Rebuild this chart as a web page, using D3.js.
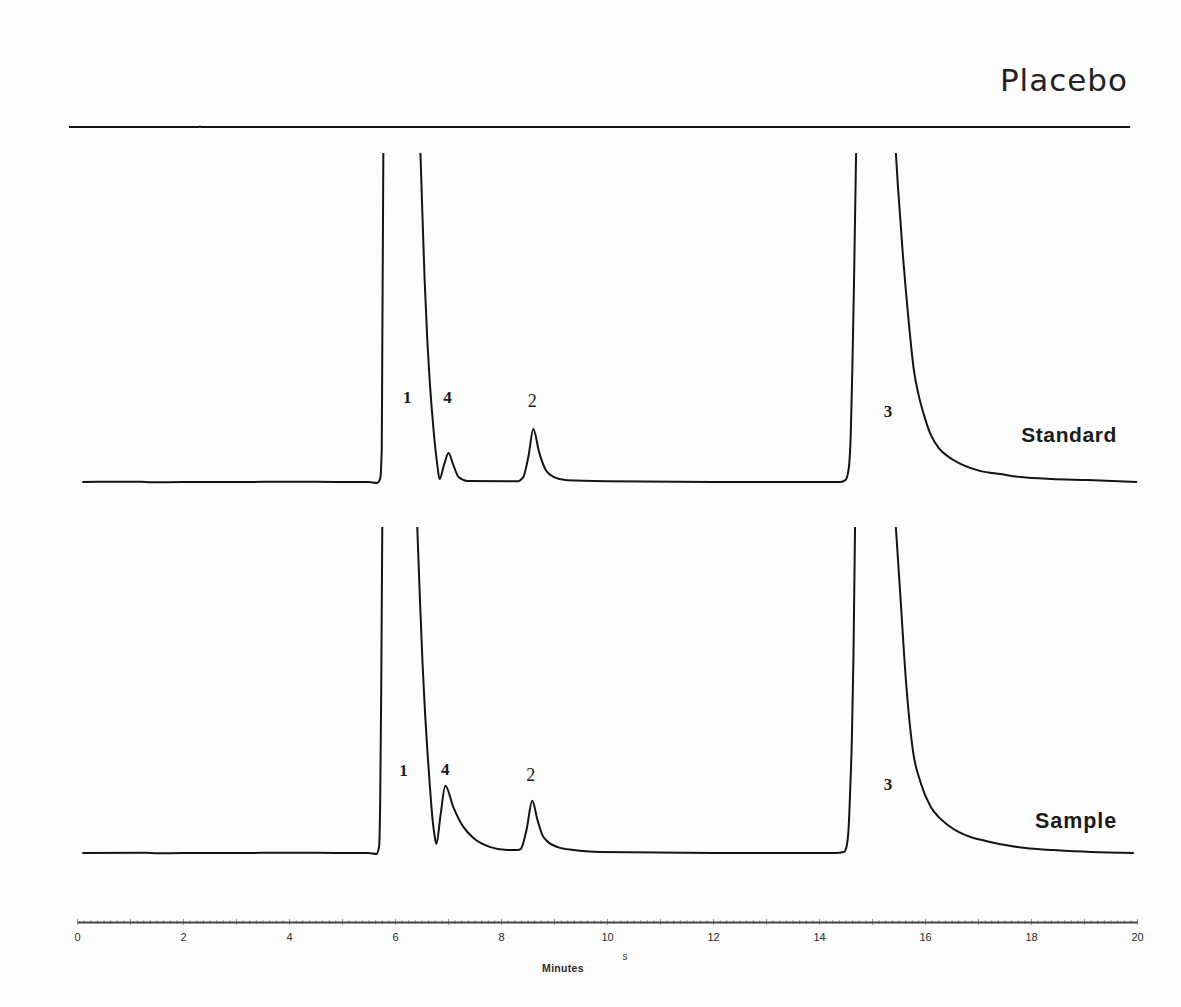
<!DOCTYPE html>
<html>
<head>
<meta charset="utf-8">
<script src="https://cdn.jsdelivr.net/npm/d3@7"></script>
<style>
  html, body { margin: 0; padding: 0; background: #fdfdfd; }
  svg { display: block; }
</style>
</head>
<body>
<svg id="chart" width="1181" height="1007"></svg>
<script>
// ---------------- DATA ----------------
// Retention time (minutes), detector signal (relative units, 100 = top of scale, null = off-scale)
const placeboTrace = [[-0.15, 0], [2.3, 0], [2.32, 0.4], [2.34, 0], [19.87, 0]];

const standardTrace = [
  [0.1, 0], [1.2, 0.1], [1.4, -0.1], [2.0, 0], [3.0, 0], [4.0, 0.1], [5.0, 0], [5.5, 0],
  [5.66, -0.3], [5.72, 1.0], [5.75, 10], [5.76, 40], [5.77, 70], [5.78, 100],
  [6.1, null],
  [6.48, 100], [6.52, 80], [6.56, 61], [6.61, 43], [6.65, 32], [6.70, 21],
  [6.75, 12], [6.80, 5], [6.84, 0.9],
  [6.93, 5.5], [7.01, 8.8], [7.10, 5.2], [7.20, 1.5], [7.37, 0.3],
  [8.30, 0.2], [8.42, 1.5], [8.52, 8], [8.61, 16.1], [8.72, 9], [8.85, 3.5], [9.0, 1.5],
  [9.25, 0.5], [10.0, 0.2], [12.0, 0], [14.4, 0],
  [14.5, 0.6], [14.56, 4], [14.60, 15], [14.63, 35], [14.66, 60], [14.70, 100],
  [15.1, null],
  [15.45, 100], [15.49, 89.7], [15.58, 69.6], [15.69, 49.2], [15.79, 34.0], [15.88, 26.4],
  [15.98, 20.4], [16.11, 14.3], [16.26, 10.3], [16.45, 7.6], [16.71, 5.2], [17.05, 3.3],
  [17.43, 2.4], [17.81, 1.5], [18.38, 0.9], [19.07, 0.6], [20.0, 0]
];

const sampleTrace = [
  [0.1, 0], [1.3, 0.1], [1.5, -0.1], [2.0, 0], [3.0, 0], [4.0, 0.1], [5.0, 0], [5.5, 0],
  [5.65, -0.3], [5.70, 2], [5.72, 15], [5.74, 50], [5.76, 100],
  [6.1, null],
  [6.42, 100], [6.47, 78], [6.52, 58], [6.57, 42], [6.61, 31.6], [6.66, 20], [6.71, 10], [6.75, 5], [6.78, 2.8],
  [6.86, 11.7], [6.95, 20.6], [7.10, 14.1], [7.29, 8.0], [7.48, 4.6], [7.80, 1.8],
  [8.12, 0.9], [8.31, 0.9], [8.37, 1.2], [8.48, 7], [8.59, 16], [8.69, 10], [8.80, 4.9],
  [9.07, 1.8], [9.37, 0.9], [9.88, 0.3], [12.0, 0], [14.3, 0],
  [14.47, 0.3], [14.52, 2], [14.56, 8], [14.59, 20], [14.62, 35], [14.65, 60], [14.68, 100],
  [15.1, null],
  [15.45, 100], [15.54, 77.6], [15.64, 53], [15.77, 31.6], [15.92, 21.5], [16.11, 14.1],
  [16.26, 11.0], [16.43, 8.6], [16.64, 6.4], [16.86, 4.9], [17.15, 3.7], [17.49, 2.5],
  [17.9, 1.5], [18.43, 0.9], [19.13, 0.3], [19.94, 0]
];

const peakNames = ["1", "4", "2", "3"];
const standardPeakTimes = [6.23, 6.99, 8.59, 15.30];
const standardPeakLabelLevels = [24, 24, 22.8, 19.8];
const samplePeakTimes = [6.16, 6.95, 8.56, 15.30];
const samplePeakLabelLevels = [23.6, 23.9, 22.1, 19.3];

const traceNames = ["Placebo", "Standard", "Sample"];
const majorTicks = [0, 2, 4, 6, 8, 10, 12, 14, 16, 18, 20];
const xLabel = "Minutes";

// ---------------- LAYOUT ----------------
const svg = d3.select("#chart");
const x = d3.scaleLinear().domain([0, 20]).range([77, 1137]);
const yStd = d3.scaleLinear().domain([0, 100]).range([482, 153]);
const ySmp = d3.scaleLinear().domain([0, 100]).range([853, 527]);
const yPlc = d3.scaleLinear().domain([0, 100]).range([127, 0]);

const lineColor = "#141414";

function drawTrace(data, y) {
  const line = d3.line()
    .defined(d => d[1] !== null)
    .x(d => x(d[0]))
    .y(d => y(d[1]))
    .curve(d3.curveMonotoneX);
  svg.append("path")
    .datum(data)
    .attr("d", line)
    .attr("fill", "none")
    .attr("stroke", lineColor)
    .attr("stroke-width", 2)
    .attr("stroke-linejoin", "round");
}

drawTrace(placeboTrace, yPlc);
drawTrace(standardTrace, yStd);
drawTrace(sampleTrace, ySmp);

// Trace names
svg.append("text")
  .attr("x", 1128).attr("y", 91)
  .attr("text-anchor", "end")
  .attr("font-family", "DejaVu Sans, Verdana, sans-serif")
  .attr("font-size", 31)
  .attr("letter-spacing", 1)
  .attr("fill", "#222")
  .text(traceNames[0]);

svg.append("text")
  .attr("x", 1117).attr("y", 442)
  .attr("text-anchor", "end")
  .attr("font-family", "Liberation Sans, Arial, sans-serif")
  .attr("font-weight", "bold")
  .attr("font-size", 21)
  .attr("letter-spacing", 0.6)
  .attr("fill", "#1a1a1a")
  .text(traceNames[1]);

svg.append("text")
  .attr("x", 1117).attr("y", 828)
  .attr("text-anchor", "end")
  .attr("font-family", "Liberation Sans, Arial, sans-serif")
  .attr("font-weight", "bold")
  .attr("font-size", 21.5)
  .attr("letter-spacing", 0.9)
  .attr("fill", "#1a1a1a")
  .text(traceNames[2]);

// Peak labels
function drawPeakLabels(times, levels, y) {
  svg.append("g").selectAll("text")
    .data(peakNames.map((n, i) => ({ n, t: times[i], v: levels[i] })))
    .join("text")
    .attr("x", d => x(d.t))
    .attr("y", d => y(d.v))
    .attr("text-anchor", "middle")
    .attr("font-family", "Liberation Serif, Times New Roman, serif")
    .attr("font-weight", d => d.n === "2" ? "normal" : "bold")
    .attr("font-size", d => d.n === "2" ? 18 : 17)
    .attr("fill", "#1a1a1a")
    .text(d => d.n);
}
drawPeakLabels(standardPeakTimes, standardPeakLabelLevels, yStd);
drawPeakLabels(samplePeakTimes, samplePeakLabelLevels, ySmp);

// ---------------- AXIS ----------------
const axisY = 922;
// minor ticks
const minorTicks = d3.range(0, 20.0001, 0.125).filter(t => Math.abs(t - Math.round(t)) > 1e-6);
svg.append("g")
  .attr("transform", `translate(0,${axisY - 2})`)
  .call(d3.axisBottom(x).tickValues(minorTicks).tickSize(4).tickFormat(""))
  .call(g => g.select(".domain").remove())
  .call(g => g.selectAll("line").attr("stroke", "#a8a8a8").attr("stroke-width", 1));
// minute ticks
svg.append("g")
  .attr("transform", `translate(0,${axisY - 3})`)
  .call(d3.axisBottom(x).tickValues(d3.range(0, 21, 1)).tickSize(6).tickFormat(""))
  .call(g => g.select(".domain").remove())
  .call(g => g.selectAll("line").attr("stroke", "#999").attr("stroke-width", 1));
// main axis with labels
svg.append("g")
  .attr("transform", `translate(0,${axisY})`)
  .call(d3.axisBottom(x).tickValues(majorTicks).tickSize(0).tickSizeOuter(0).tickPadding(11).tickFormat(d3.format("d")))
  .call(g => g.select(".domain").attr("stroke", "#444").attr("stroke-width", 2))
  .call(g => g.selectAll("text")
    .attr("font-family", "Liberation Sans, Arial, sans-serif")
    .attr("font-size", 11)
    .attr("fill", "#2a2a2a"));

svg.append("text")
  .attr("x", 625).attr("y", 960)
  .attr("text-anchor", "middle")
  .attr("font-family", "Liberation Sans, Arial, sans-serif")
  .attr("font-size", 10)
  .attr("fill", "#333")
  .text("s");

svg.append("text")
  .attr("x", 563).attr("y", 972)
  .attr("text-anchor", "middle")
  .attr("font-family", "Liberation Sans, Arial, sans-serif")
  .attr("font-weight", "bold")
  .attr("font-size", 10.5)
  .attr("letter-spacing", 0.3)
  .attr("fill", "#2a2a2a")
  .text(xLabel);
</script>
</body>
</html>
